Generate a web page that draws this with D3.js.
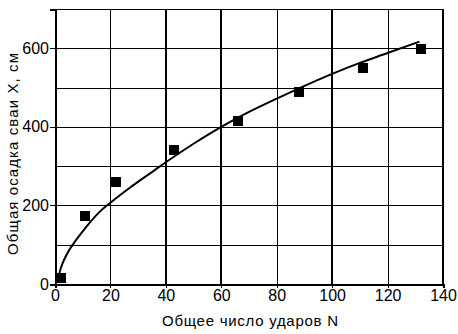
<!DOCTYPE html>
<html>
<head>
<meta charset="utf-8">
<script src="https://cdn.jsdelivr.net/npm/d3@7"></script>
<style>
  body { margin: 0; background: #fff; }
  text { font-family: "Liberation Sans", Arial, sans-serif; fill: #000; }
</style>
</head>
<body>
<div id="chart"></div>
<script>
// measured points: blows N, settlement X (cm)
const blowsN = [2, 11, 22, 43, 66, 88, 111, 132];
const settleX = [15, 173, 260, 340, 416, 488, 550, 598];

// fitted curve
const curveN = [1, 2, 4, 7, 10, 13, 16, 20, 27, 36, 40, 50, 60, 70, 80, 88, 100, 110, 120, 131.5];
const curveX = [10, 38, 72, 106, 134, 160, 183, 207, 245, 290, 310, 357, 400, 438, 472, 498, 535, 563, 588, 617];

const xTicks = [0, 20, 40, 60, 80, 100, 120, 140];
const yTicks = [0, 200, 400, 600];
const yGrid = [100, 200, 300, 400, 500, 600, 700];
const thickX = [40, 60, 100, 140];

const xLabel = "Общее число ударов N";
const yLabel = "Общая осадка сваи X, см";

const width = 458, height = 334;
const margin = {top: 9, right: 15, bottom: 50, left: 55};

const svg = d3.select("#chart").append("svg")
    .attr("width", width)
    .attr("height", height)
    .attr("shape-rendering", "crispEdges");

const x = d3.scaleLinear().domain([0, 140]).range([margin.left, width - margin.right]);
const y = d3.scaleLinear().domain([0, 700]).range([height - margin.bottom, margin.top]);

// horizontal grid
svg.append("g").selectAll("line")
  .data(yGrid)
  .join("line")
    .attr("x1", x(0)).attr("x2", x(140))
    .attr("y1", d => Math.round(y(d)) + 0.5)
    .attr("y2", d => Math.round(y(d)) + 0.5)
    .attr("stroke", "#000").attr("stroke-width", 1);

// vertical grid
svg.append("g").selectAll("line")
  .data(xTicks.slice(1))
  .join("line")
    .attr("x1", d => Math.round(x(d)))
    .attr("x2", d => Math.round(x(d)))
    .attr("y1", y(700)).attr("y2", y(0))
    .attr("stroke", "#000")
    .attr("stroke-width", d => thickX.includes(d) ? 2 : 1);

// axes
const xAxis = svg.append("g")
    .attr("transform", `translate(0,${y(0)})`)
    .call(d3.axisBottom(x).tickValues(xTicks).tickSize(4).tickPadding(2));
const yAxis = svg.append("g")
    .attr("transform", `translate(${x(0)},0)`)
    .call(d3.axisLeft(y).tickValues(yTicks).tickSize(5).tickPadding(1));

[xAxis, yAxis].forEach(g => {
  g.select(".domain").attr("stroke", "#000").attr("stroke-width", 2);
  g.selectAll(".tick line").attr("stroke", "#000").attr("stroke-width", 1);
  g.selectAll(".tick text")
    .attr("font-size", 16)
    .attr("font-family", "Liberation Sans, Arial, sans-serif")
    .attr("fill", "#000");
});

// fitted curve
const line = d3.line()
    .x((d, i) => x(curveN[i]))
    .y((d, i) => y(curveX[i]))
    .curve(d3.curveMonotoneX);

svg.append("path")
    .datum(curveN)
    .attr("d", line)
    .attr("fill", "none")
    .attr("stroke", "#000")
    .attr("stroke-width", 2)
    .attr("shape-rendering", "auto");

// markers
const sz = 10;
svg.append("g").selectAll("rect")
  .data(blowsN)
  .join("rect")
    .attr("x", (d, i) => x(d) - sz / 2)
    .attr("y", (d, i) => y(settleX[i]) - sz / 2)
    .attr("width", sz)
    .attr("height", sz)
    .attr("fill", "#000");

// axis titles
svg.append("text")
    .attr("x", 250)
    .attr("y", 326)
    .attr("text-anchor", "middle")
    .attr("font-size", 15)
    .attr("textLength", 176)
    .text(xLabel);

svg.append("text")
    .attr("transform", `translate(18,154) rotate(-90)`)
    .attr("text-anchor", "middle")
    .attr("font-size", 15)
    .attr("textLength", 202)
    .text(yLabel);
</script>
</body>
</html>
